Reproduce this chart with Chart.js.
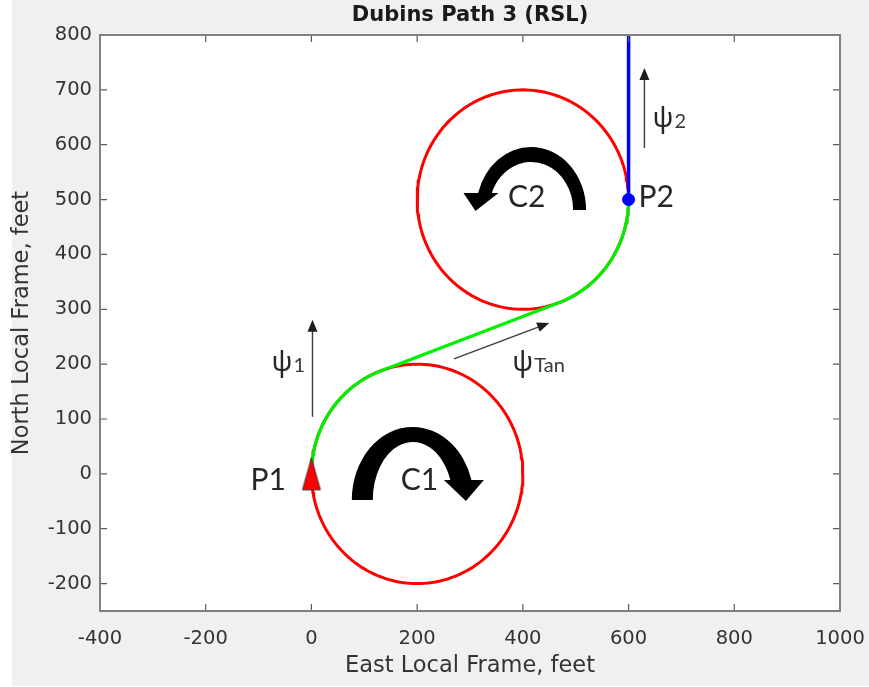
<!DOCTYPE html>
<html>
<head>
<meta charset="utf-8">
<script src="https://cdn.jsdelivr.net/npm/chart.js@4/dist/chart.umd.min.js"></script>
<style>
html, body { margin: 0; padding: 0; background: #fff; }
canvas { display: block; }
</style>
</head>
<body>
<canvas id="dubins" width="869" height="687"></canvas>
<script>
// axis ticks
const xTickValues = [-400, -200, 0, 200, 400, 600, 800, 1000];
const yTickValues = [-200, -100, 0, 100, 200, 300, 400, 500, 600, 700, 800];

// turn circles
const circleNames = ['C1', 'C2'];
const circleCenterX = [200, 400];
const circleCenterY = [0, 500];
const circleRadius = [200, 200];

// RSL path: right arc on C1, tangent, left arc on C2 (degrees)
const arcStartDeg = [180, -69.8];
const arcEndDeg = [110.2, 0];

// start / end points
const waypointNames = ['P1', 'P2'];
const waypointX = [0, 600];
const waypointY = [0, 500];

// final heading leg
const exitX = [600, 600];
const exitY = [500, 800];

function arcPoints(i, from, to) {
	const pts = [];
	const n = Math.max(2, Math.ceil(Math.abs(to - from) / 2));
	for (let k = 0; k <= n; k++) {
		const a = (from + (to - from) * k / n) * Math.PI / 180;
		pts.push({
			x: circleCenterX[i] + circleRadius[i] * Math.cos(a),
			y: circleCenterY[i] + circleRadius[i] * Math.sin(a)
		});
	}
	return pts;
}

const circlePts = circleNames.map((_, i) => arcPoints(i, 0, 360));
const pathPts = arcPoints(0, arcStartDeg[0], arcEndDeg[0]).concat(arcPoints(1, arcStartDeg[1], arcEndDeg[1]));

// tall red triangle used as the P1 marker
const triMarker = document.createElement('canvas');
triMarker.width = 22;
triMarker.height = 36;
(function () {
	const t = triMarker.getContext('2d');
	t.beginPath();
	t.moveTo(11, 2);
	t.lineTo(20, 34);
	t.lineTo(2, 34);
	t.closePath();
	t.fillStyle = '#ff0000';
	t.fill();
	t.strokeStyle = '#3a3a3a';
	t.lineWidth = 1;
	t.stroke();
})();

// annotations (data coordinates)
const arrowNotes = [
	{ from: [2, 104], to: [2, 281] },
	{ from: [269.6, 209.6], to: [449.8, 275.1] },
	{ from: [630, 594], to: [630, 740] },
];
const textNotes = [
	{ text: 'P1', at: [-115.5, -29.3] },
	{ text: 'C1', at: [169, -29.3] },
	{ text: 'C2', at: [372, 486.5] },
	{ text: 'P2', at: [618.6, 486.5] },
];
const psiNotes = [
	{ sub: '1', at: [-75.5, 187.6] },
	{ sub: 'Tan', at: [380, 187.6] },
	{ sub: '2', at: [645.5, 632.4] },
];
const turnNotes = [
	{ at: [191.8, -47.6], dir: 1, outer: [61, 73], inner: [40, 58], h: 20, half: 20, shift: 3, tip: 5 },
	{ at: [415.6, 481], dir: -1, outer: [55, 63], inner: [42, 48], h: 17, half: 17.5, shift: 4, tip: 8.5 },
];

function drawArrow(ctx, x0, y0, x1, y1) {
	const ang = Math.atan2(y1 - y0, x1 - x0);
	const len = 12, hw = 5;
	ctx.save();
	ctx.strokeStyle = '#3c3c3c';
	ctx.fillStyle = '#1e1e1e';
	ctx.lineWidth = 1.4;
	ctx.beginPath();
	ctx.moveTo(x0, y0);
	ctx.lineTo(x1 - Math.cos(ang) * len * 0.8, y1 - Math.sin(ang) * len * 0.8);
	ctx.stroke();
	ctx.translate(x1, y1);
	ctx.rotate(ang);
	ctx.beginPath();
	ctx.moveTo(0, 0);
	ctx.lineTo(-len, hw);
	ctx.lineTo(-len, -hw);
	ctx.closePath();
	ctx.fill();
	ctx.restore();
}

function drawTurn(ctx, cx, cy, g) {
	const aO = Math.asin(g.h / g.outer[1]);
	const aI = Math.asin(g.h / g.inner[1]);
	const xo = g.outer[0] * Math.cos(aO);
	const xi = g.inner[0] * Math.cos(aI);
	const mid = (xo + xi) / 2 + g.shift;
	ctx.save();
	ctx.translate(cx, cy);
	ctx.scale(g.dir, 1);
	ctx.fillStyle = '#000';
	ctx.beginPath();
	ctx.ellipse(0, 0, g.outer[0], g.outer[1], 0, Math.PI, 2 * Math.PI - aO, false);
	ctx.lineTo(xi, -g.h);
	ctx.ellipse(0, 0, g.inner[0], g.inner[1], 0, 2 * Math.PI - aI, Math.PI, true);
	ctx.closePath();
	ctx.fill();
	ctx.beginPath();
	ctx.moveTo(mid - g.half, -g.h);
	ctx.lineTo(mid + g.half, -g.h);
	ctx.lineTo(mid + g.tip - 3, 1);
	ctx.closePath();
	ctx.fill();
	ctx.restore();
}

const frameBackground = {
	id: 'frameBackground',
	beforeDraw(chart) {
		const { ctx, chartArea: a } = chart;
		ctx.save();
		ctx.fillStyle = '#ffffff';
		ctx.fillRect(0, 0, chart.width, chart.height);
		ctx.fillStyle = '#f0f0f0';
		ctx.fillRect(12, 0, chart.width - 12, chart.height - 1);
		ctx.fillStyle = '#ffffff';
		ctx.fillRect(a.left, a.top, a.right - a.left, a.bottom - a.top);
		ctx.restore();
	}
};

const axesBox = {
	id: 'axesBox',
	afterDatasetsDraw(chart) {
		const { ctx, chartArea: a, scales } = chart;
		ctx.save();
		ctx.strokeStyle = '#5a5a5a';
		ctx.lineWidth = 1.2;
		ctx.beginPath();
		scales.x.ticks.forEach(t => {
			const px = scales.x.getPixelForValue(t.value);
			ctx.moveTo(px, a.bottom);
			ctx.lineTo(px, a.bottom - 7);
			ctx.moveTo(px, a.top);
			ctx.lineTo(px, a.top + 7);
		});
		scales.y.ticks.forEach(t => {
			const py = scales.y.getPixelForValue(t.value);
			ctx.moveTo(a.left, py);
			ctx.lineTo(a.left + 7, py);
			ctx.moveTo(a.right, py);
			ctx.lineTo(a.right - 7, py);
		});
		ctx.stroke();
		ctx.strokeStyle = '#808080';
		ctx.lineWidth = 2;
		ctx.strokeRect(a.left, a.top, a.right - a.left, a.bottom - a.top);
		ctx.restore();
	}
};

const notes = {
	id: 'notes',
	afterDatasetsDraw(chart) {
		const { ctx, scales: { x, y } } = chart;
		const px = v => x.getPixelForValue(v);
		const py = v => y.getPixelForValue(v);
		arrowNotes.forEach(n => drawArrow(ctx, px(n.from[0]), py(n.from[1]), px(n.to[0]), py(n.to[1])));
		turnNotes.forEach(n => drawTurn(ctx, px(n.at[0]), py(n.at[1]), n));
		ctx.save();
		ctx.fillStyle = '#262626';
		ctx.textBaseline = 'alphabetic';
		ctx.textAlign = 'left';
		ctx.font = '30px Lato, "Noto Sans", sans-serif';
		textNotes.forEach(n => ctx.fillText(n.text, px(n.at[0]), py(n.at[1])));
		psiNotes.forEach(n => {
			const bx = px(n.at[0]), by = py(n.at[1]);
			ctx.font = '28px "Noto Sans", "DejaVu Sans", sans-serif';
			ctx.fillStyle = '#262626';
			ctx.fillText('\u03c8', bx, by);
			const w = ctx.measureText('\u03c8').width;
			ctx.font = '20px Lato, "Noto Sans", sans-serif';
			ctx.fillStyle = '#3a3a3a';
			ctx.fillText(n.sub, bx + w + 1, by + 1);
		});
		ctx.restore();
	}
};

const tickFont = { family: '"DejaVu Sans", sans-serif', size: 19.5 };
const titleFont = { family: '"DejaVu Sans", sans-serif', size: 22.5 };

new Chart(document.getElementById('dubins'), {
	type: 'scatter',
	data: {
		datasets: [
			{
				label: waypointNames[0],
				data: [{ x: waypointX[0], y: waypointY[0] }],
				pointStyle: triMarker,
				pointRadius: 11,
				order: 0,
			},
			{
				label: waypointNames[1],
				data: [{ x: waypointX[1], y: waypointY[1] }],
				pointStyle: 'circle',
				pointRadius: 6,
				backgroundColor: '#0000ff',
				borderColor: '#0000ff',
				order: 0,
			},
			{
				label: 'exit',
				data: exitX.map((v, i) => ({ x: v, y: exitY[i] })),
				showLine: true,
				borderColor: '#0000ff',
				borderWidth: 3.5,
				pointRadius: 0,
				order: 1,
			},
			{
				label: 'path',
				data: pathPts,
				showLine: true,
				borderColor: '#00f000',
				borderWidth: 3.2,
				borderJoinStyle: 'round',
				pointRadius: 0,
				order: 2,
			},
			{
				label: circleNames[0],
				data: circlePts[0],
				showLine: true,
				borderColor: '#ff0000',
				borderWidth: 3,
				borderJoinStyle: 'round',
				pointRadius: 0,
				order: 3,
			},
			{
				label: circleNames[1],
				data: circlePts[1],
				showLine: true,
				borderColor: '#ff0000',
				borderWidth: 3,
				borderJoinStyle: 'round',
				pointRadius: 0,
				order: 3,
			},
		]
	},
	options: {
		responsive: false,
		animation: false,
		events: [],
		layout: { padding: 0 },
		plugins: {
			legend: { display: false },
			tooltip: { enabled: false },
			title: {
				display: true,
				text: 'Dubins Path 3 (RSL)',
				fullSize: false,
				color: '#1a1a1a',
				font: { family: '"DejaVu Sans", sans-serif', size: 21, weight: 'bold' },
				padding: { top: 3, bottom: 6.8 },
			},
		},
		scales: {
			x: {
				type: 'linear',
				min: -400,
				max: 1000,
				grid: { display: false, drawTicks: false },
				border: { display: false },
				afterBuildTicks: s => { s.ticks = xTickValues.map(v => ({ value: v })); },
				afterFit: s => { s.height = 76; s.paddingLeft = 0; s.paddingRight = 29; },
				ticks: { color: '#333', font: tickFont, padding: 16, maxRotation: 0, callback: v => String(v) },
				title: { display: true, text: 'East Local Frame, feet', color: '#333', font: titleFont, padding: { top: 0, bottom: 7.5 } },
			},
			y: {
				type: 'linear',
				min: -250,
				max: 800,
				grid: { display: false, drawTicks: false },
				border: { display: false },
				afterBuildTicks: s => { s.ticks = yTickValues.map(v => ({ value: v })); },
				afterFit: s => { s.width = 100; },
				ticks: { color: '#333', font: tickFont, padding: 8, callback: v => String(v) },
				title: { display: true, text: 'North Local Frame, feet', color: '#333', font: titleFont, padding: { top: 8.5, bottom: 0 } },
			},
		},
	},
	plugins: [frameBackground, axesBox, notes],
});
</script>
</body>
</html>
